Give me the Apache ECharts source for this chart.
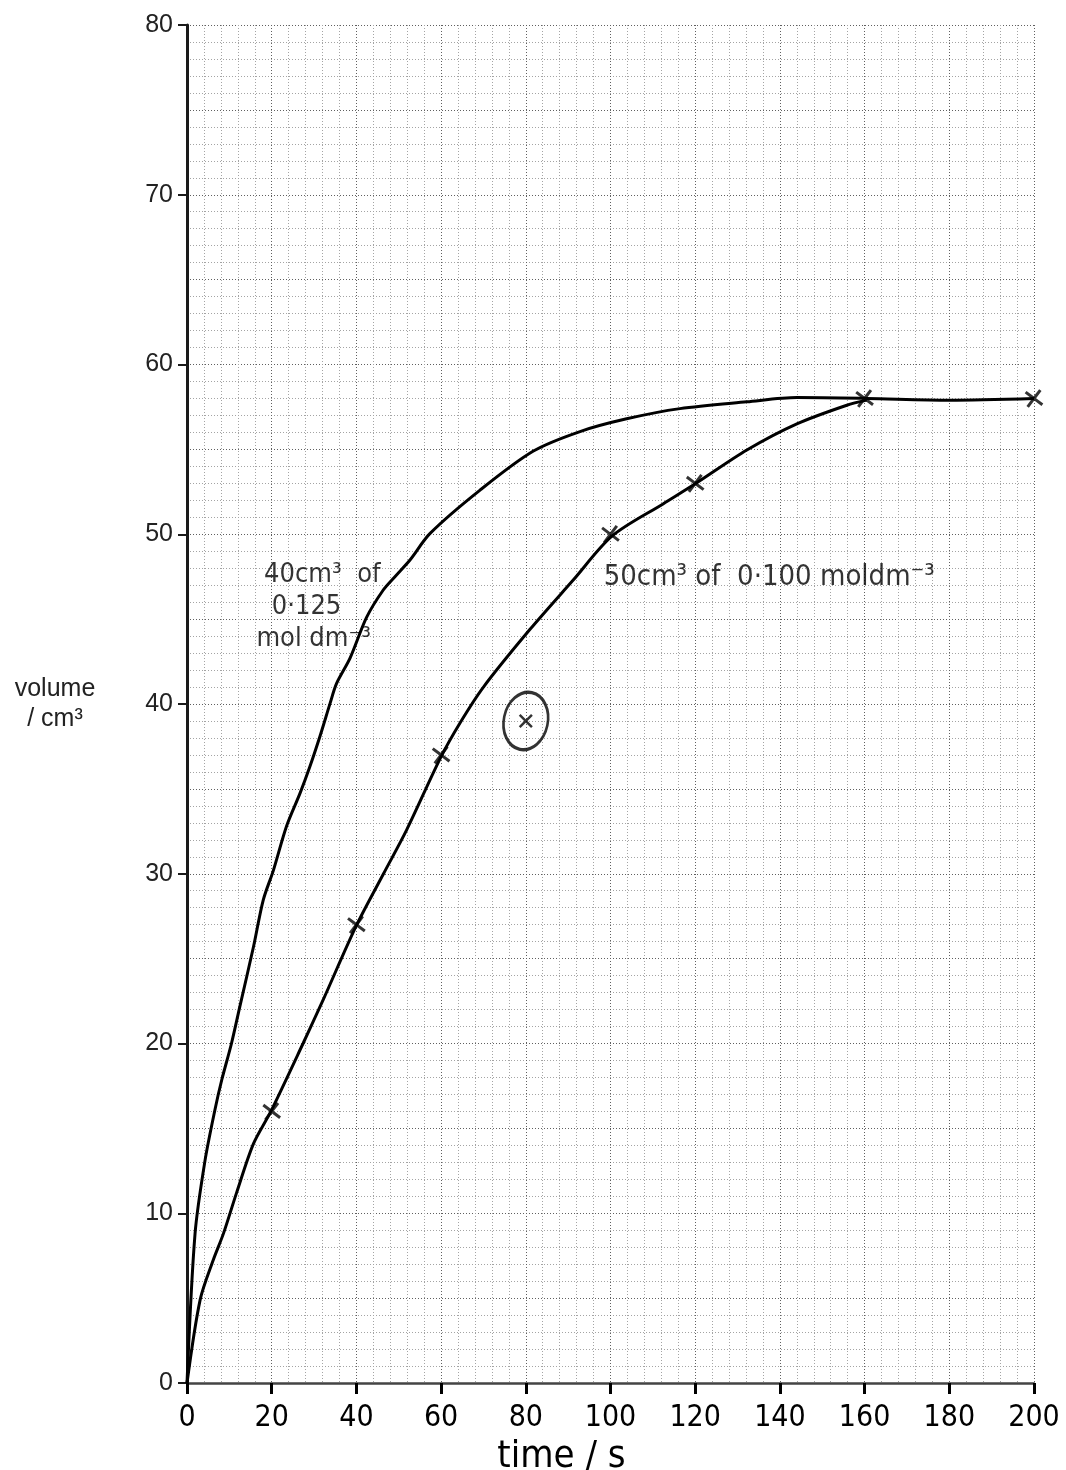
<!DOCTYPE html>
<html>
<head>
<meta charset="utf-8">
<script src="https://cdn.jsdelivr.net/npm/echarts@6/dist/echarts.min.js"></script>
<style>
  html, body { margin: 0; padding: 0; background: #fff; }
  #chart { width: 1066px; height: 1470px; }
</style>
</head>
<body>
<div id="chart"></div>
<script>
// ---- data ----
// curve for 40 cm3 of 0.125 mol dm-3 (drawn line, no markers)
var curveATime   = [0, 1.9, 4.25, 6.6, 8.2, 10.5, 12.5, 15.7, 18, 20.4, 23.5, 26.7, 29, 31.4, 33.8, 35.3, 38.5, 42.4, 46.3, 49.1, 52.7, 57.4, 69.2, 81.8, 92.8, 103.8, 116.4, 132.2, 144, 160.5, 180, 200];
var curveAVolume = [0, 8.8, 13.1, 16.1, 17.85, 20, 22.2, 25.7, 28.45, 30.2, 32.8, 34.75, 36.3, 38.1, 40.05, 41.2, 42.7, 45.1, 46.7, 47.5, 48.5, 50.05, 52.6, 54.9, 56.05, 56.8, 57.4, 57.8, 58.05, 58.0, 57.9, 58.0];
// curve for 50 cm3 of 0.100 mol dm-3 (drawn line)
var curveBTime   = [0, 3.1, 6.2, 8.6, 11.7, 15.7, 19.8, 27.4, 32.2, 39.9, 46.4, 51.9, 60, 64.5, 70, 81, 91.2, 100.4, 112.5, 120.2, 132.2, 144, 155.8, 160.5];
var curveBVolume = [0, 4.9, 7.25, 8.8, 11.2, 14.1, 16, 20, 22.6, 26.9, 30.0, 32.6, 36.9, 38.9, 41, 44.4, 47.3, 49.9, 51.8, 53, 54.96, 56.5, 57.6, 57.9];
// plotted crosses
var pointTime   = [20, 40, 60, 100, 120, 160, 200];
var pointVolume = [16, 27, 37, 50, 53, 58, 58];
// circled anomalous result
var anomalyTime   = [80];
var anomalyVolume = [39];
// axis ticks
var xTicks = [0, 20, 40, 60, 80, 100, 120, 140, 160, 180, 200];
var yTicks = [0, 10, 20, 30, 40, 50, 60, 70, 80];
// annotations
var noteA = { time: 16.5, volume: 45.7, text: ' 40cm³  of\n  0·125\nmol dm⁻³' };
var noteB = { time: 98.5, volume: 47.4, text: '50cm³ of  0·100 moldm⁻³' };

function pairs(xs, ys) { return xs.map(function (x, i) { return [x, ys[i]]; }); }

var hand = '"Liberation Sans Narrow", "DejaVu Sans Condensed", "Roboto Condensed", "Noto Sans", sans-serif';
var crossPath = 'path://M2,0 L8,6 L14,0 L16,2 L10,8 L16,14 L14,16 L8,10 L2,16 L0,14 L6,8 L0,2 Z';
var minorStyle = { color: '#a4a4a4', width: 1, type: [1, 2] };
var majorStyle = { color: '#606060', width: 1, type: [1, 2] };

var chart = echarts.init(document.getElementById('chart'), null, { renderer: 'canvas' });
chart.setOption({
  animation: false,
  backgroundColor: '#ffffff',
  grid: { left: 187, right: 32, top: 25, bottom: 87, containLabel: false, outerBoundsMode: 'none' },
  xAxis: [{
    type: 'value', min: xTicks[0], max: xTicks[xTicks.length - 1], interval: 20,
    name: 'time / s', nameLocation: 'middle', nameGap: 48,
    nameTextStyle: { fontFamily: hand, fontSize: 38, color: '#000', padding: [0, 98, 0, 0] },
    axisLine: { show: true, onZero: false, lineStyle: { color: '#444', width: 2.5 } },
    axisTick: { show: true, length: 11, lineStyle: { color: '#000', width: 3 } },
    axisLabel: { show: true, margin: 20, fontFamily: hand, fontSize: 30, color: '#000' },
    splitLine: { show: true, lineStyle: majorStyle },
    minorTick: { show: false, splitNumber: 5 },
    minorSplitLine: { show: true, lineStyle: minorStyle }
  }],
  yAxis: [{
    type: 'value', min: yTicks[0], max: yTicks[yTicks.length - 1], interval: 10,
    name: 'volume\n/ cm³', nameLocation: 'middle', nameGap: 132, nameRotate: 0,
    nameTextStyle: { fontFamily: '"Liberation Sans", Arial, sans-serif', fontSize: 25, color: '#222', align: 'center', lineHeight: 30 },
    axisLine: { show: true, onZero: false, lineStyle: { color: '#1a1a1a', width: 3 } },
    axisTick: { show: true, length: 9, lineStyle: { color: '#1a1a1a', width: 2 } },
    axisLabel: { show: true, margin: 14, fontFamily: '"Liberation Sans", Arial, sans-serif', fontSize: 25, color: '#222' },
    splitLine: { show: false }
  }, {
    type: 'value', min: yTicks[0], max: yTicks[yTicks.length - 1], interval: 5, position: 'left',
    axisLine: { show: false }, axisTick: { show: false }, axisLabel: { show: false },
    splitLine: { show: true, lineStyle: majorStyle },
    minorTick: { show: false, splitNumber: 5 },
    minorSplitLine: { show: true, lineStyle: minorStyle }
  }],
  series: [{
    type: 'line', name: '40 cm3 of 0.125', data: pairs(curveATime, curveAVolume),
    smooth: 0.3, showSymbol: false, symbol: 'none',
    lineStyle: { color: '#000', width: 3 }, z: 3
  }, {
    type: 'line', name: '50 cm3 of 0.100', data: pairs(curveBTime, curveBVolume),
    smooth: 0.3, showSymbol: false, symbol: 'none',
    lineStyle: { color: '#000', width: 3 }, z: 3
  }, {
    type: 'scatter', data: pairs(pointTime, pointVolume),
    symbol: crossPath, symbolSize: 17, symbolRotate: 8,
    itemStyle: { color: '#000' }, z: 4
  }, {
    type: 'scatter', data: pairs(anomalyTime, anomalyVolume),
    symbol: crossPath, symbolSize: 14,
    itemStyle: { color: '#000' }, z: 4
  }, {
    type: 'scatter', data: pairs(anomalyTime, anomalyVolume),
    symbol: 'circle', symbolSize: [44, 58], symbolRotate: -12,
    itemStyle: { color: 'rgba(0,0,0,0)', borderColor: '#000', borderWidth: 3 }, z: 4
  }, {
    type: 'scatter', symbolSize: 1, itemStyle: { color: 'rgba(0,0,0,0)' },
    data: [[noteA.time, noteA.volume]],
    label: { show: true, position: [0, 0], align: 'left', verticalAlign: 'middle',
      formatter: noteA.text, fontFamily: hand, fontSize: 27, lineHeight: 32, color: '#000' },
    z: 5
  }, {
    type: 'scatter', symbolSize: 1, itemStyle: { color: 'rgba(0,0,0,0)' },
    data: [[noteB.time, noteB.volume]],
    label: { show: true, position: [0, 0], align: 'left', verticalAlign: 'middle',
      formatter: noteB.text, fontFamily: hand, fontSize: 29, color: '#000' },
    z: 5
  }]
});
</script>
</body>
</html>
